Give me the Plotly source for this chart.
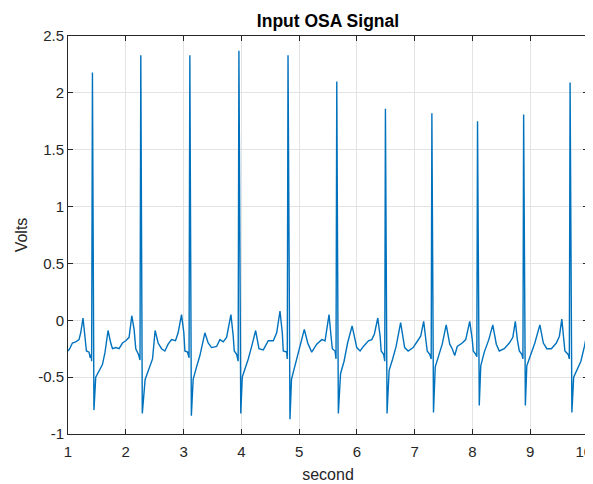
import plotly.graph_objects as go

# Time (seconds) and voltage samples
time_s = [
    1.000, 1.030, 1.076, 1.133, 1.191, 1.220, 1.260, 1.295, 1.319, 1.364, 1.385, 1.402, 1.409,
    1.423, 1.449, 1.480, 1.537, 1.596, 1.641, 1.693, 1.740, 1.770, 1.827, 1.884, 1.943, 2.000,
    2.057, 2.104, 2.144, 2.173, 2.220, 2.246,
    2.260, 2.286, 2.335, 2.404, 2.463, 2.508, 2.560, 2.619, 2.676, 2.733, 2.792, 2.861, 2.906,
    2.965, 3.005, 3.023, 3.069, 3.095,
    3.109, 3.135, 3.166, 3.225, 3.283, 3.369, 3.426, 3.485, 3.572, 3.629, 3.686, 3.745, 3.820,
    3.860, 3.877, 3.919, 3.945,
    3.958, 3.990, 4.016, 4.092, 4.120, 4.179, 4.248, 4.305, 4.380, 4.466, 4.553, 4.612, 4.669,
    4.709, 4.726, 4.785, 4.795,
    4.808, 4.842, 4.868, 4.929, 4.986, 5.090, 5.149, 5.218, 5.305, 5.392, 5.449, 5.518, 5.553,
    5.575, 5.622, 5.639,
    5.652, 5.679, 5.717, 5.778, 5.839, 5.917, 5.998, 6.056, 6.113, 6.200, 6.258, 6.303, 6.362,
    6.402, 6.420, 6.463, 6.482,
    6.494, 6.522, 6.558, 6.619, 6.679, 6.757, 6.827, 6.887, 6.974, 7.052, 7.104, 7.156, 7.191,
    7.217, 7.260, 7.286,
    7.298, 7.326, 7.356, 7.416, 7.477, 7.546, 7.607, 7.650, 7.693, 7.737, 7.823, 7.884, 7.953,
    7.997, 8.014, 8.057, 8.076,
    8.088, 8.118, 8.144, 8.205, 8.283, 8.352, 8.413, 8.465, 8.551, 8.638, 8.699, 8.742, 8.777,
    8.811, 8.855, 8.874,
    8.886, 8.916, 8.941, 9.002, 9.080, 9.167, 9.227, 9.288, 9.366, 9.452, 9.505, 9.547, 9.582,
    9.600, 9.657, 9.677,
    9.690, 9.721, 9.752, 9.817, 9.877, 9.938, 9.981, 10.000,
]
volts = [
    -0.27, -0.25, -0.20, -0.19, -0.17, -0.11, 0.02, -0.14, -0.27, -0.28, -0.33, -0.30, -0.36,
    2.18, -0.79, -0.50, -0.44, -0.39, -0.28, -0.09, -0.20, -0.25, -0.24, -0.25, -0.20, -0.18,
    -0.15, 0.04, -0.08, -0.25, -0.30, -0.35,
    2.33, -0.82, -0.52, -0.43, -0.34, -0.09, -0.20, -0.25, -0.27, -0.21, -0.17, -0.18, -0.11,
    0.05, -0.11, -0.27, -0.28, -0.33,
    2.33, -0.84, -0.52, -0.41, -0.31, -0.11, -0.20, -0.24, -0.23, -0.17, -0.19, -0.15, 0.05,
    -0.14, -0.27, -0.30, -0.36,
    2.37, -0.82, -0.50, -0.39, -0.34, -0.23, -0.09, -0.25, -0.26, -0.18, -0.18, -0.11, 0.08,
    -0.11, -0.27, -0.28, -0.34,
    2.33, -0.87, -0.52, -0.40, -0.31, -0.08, -0.20, -0.28, -0.21, -0.17, -0.18, 0.05, -0.14,
    -0.25, -0.27, -0.34,
    2.10, -0.82, -0.47, -0.36, -0.20, -0.05, -0.24, -0.27, -0.23, -0.18, -0.17, -0.12, 0.02,
    -0.14, -0.27, -0.30, -0.36,
    1.86, -0.82, -0.44, -0.34, -0.23, -0.02, -0.24, -0.27, -0.24, -0.18, -0.14, -0.01, -0.17,
    -0.27, -0.30, -0.34,
    1.82, -0.81, -0.41, -0.30, -0.21, -0.04, -0.21, -0.25, -0.31, -0.23, -0.20, -0.17, -0.01,
    -0.17, -0.27, -0.30, -0.32,
    1.75, -0.75, -0.40, -0.28, -0.17, -0.04, -0.21, -0.27, -0.25, -0.20, -0.15, -0.01, -0.17,
    -0.27, -0.30, -0.34,
    1.81, -0.75, -0.40, -0.31, -0.20, -0.04, -0.20, -0.25, -0.25, -0.20, -0.14, 0.01, -0.16,
    -0.27, -0.30, -0.34,
    2.09, -0.81, -0.50, -0.43, -0.36, -0.23, -0.12, -0.07,
]

x_ticks = [1, 2, 3, 4, 5, 6, 7, 8, 9, 10]
x_tick_labels = ["1", "2", "3", "4", "5", "6", "7", "8", "9", "10\u00a0\u00a0"]
y_ticks = [-1, -0.5, 0, 0.5, 1, 1.5, 2, 2.5]
y_tick_labels = ["-1", "-0.5", "0", "0.5", "1", "1.5", "2", "2.5"]

FONT = "Liberation Sans, Arial, Helvetica, sans-serif"
AX = "#262626"

fig = go.Figure(
    go.Scatter(
        x=time_s, y=volts, mode="lines",
        line=dict(color="#0072BD", width=1.4),
        hoverinfo="skip",
    )
)

axis_common = dict(
    showline=True, linecolor=AX, linewidth=1, mirror="ticks",
    ticks="inside", ticklen=5, tickcolor=AX, tickwidth=1,
    showgrid=True, gridcolor="#e3e3e3", gridwidth=1,
    zeroline=False, automargin=False, ticklabeloverflow="allow",
    tickfont=dict(family=FONT, size=15, color=AX),
)

# The page body has an 8px margin, so the figure is sized to fit the window.
W, H = 585, 476
fig.update_layout(
    width=W, height=H,
    margin=dict(l=60, r=5, t=28, b=50),
    paper_bgcolor="white", plot_bgcolor="white",
    showlegend=False,
    title=dict(
        text="<b>Input OSA Signal</b>",
        font=dict(family=FONT, size=17.5, color="#000000"),
        x=0.5, xref="paper", xanchor="center",
        y=1 - 13 / H, yref="container", yanchor="middle",
    ),
    xaxis=dict(
        range=[1, 10], tickmode="array", tickvals=x_ticks,
        ticktext=x_tick_labels, ticklabelstandoff=4,
        title=dict(text="second", font=dict(family=FONT, size=16, color=AX), standoff=9),
        **axis_common,
    ),
    yaxis=dict(
        range=[-1, 2.5], tickmode="array", tickvals=y_ticks, ticktext=y_tick_labels,
        title=dict(text="Volts", font=dict(family=FONT, size=16, color=AX), standoff=6),
        **axis_common,
    ),
)

fig.write_html("out.html")
